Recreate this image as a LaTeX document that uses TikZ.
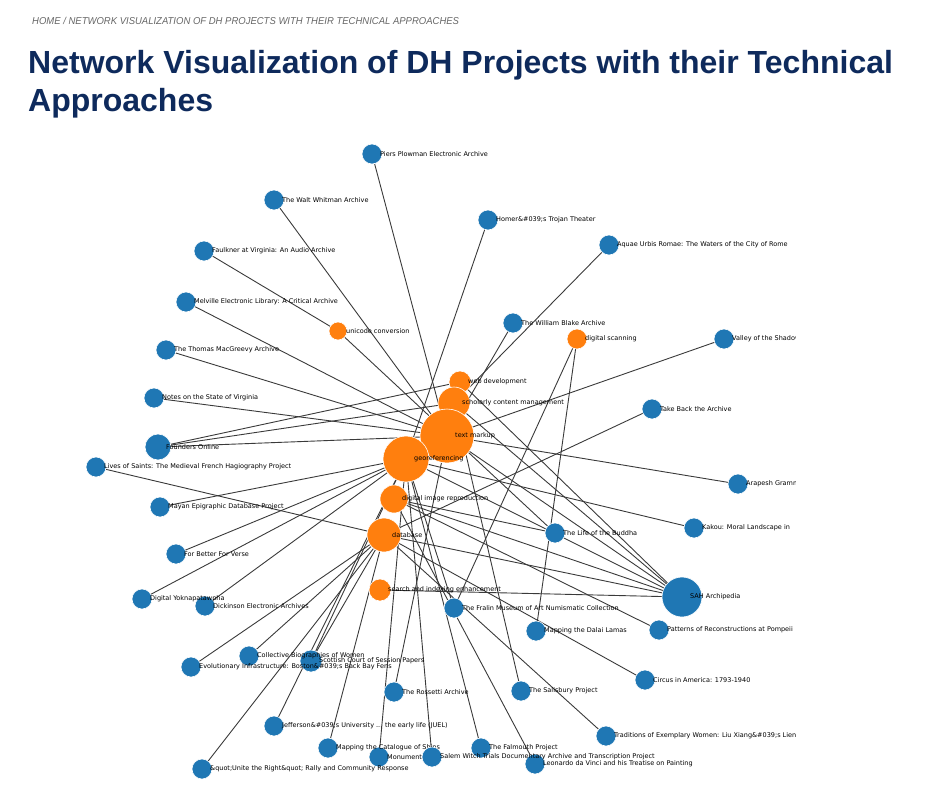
\documentclass[tikz,border=0pt]{standalone}
\usepackage{fontspec}
\setmainfont{DejaVu Sans}
\newfontfamily\titlefont{Liberation Sans}
\newfontfamily\crumbfont[FakeStretch=0.95]{Liberation Sans}
\definecolor{projBlue}{HTML}{1F77B4}
\definecolor{techOrange}{HTML}{FF7F0E}
\definecolor{titleNavy}{HTML}{0E2A5C}
\definecolor{crumbGray}{HTML}{666666}
\definecolor{linkGray}{HTML}{3A3A3A}
\pgfdeclarelayer{links}
\pgfsetlayers{links,main}
\tikzset{
  proj/.style={circle, fill=projBlue, draw=white, line width=0.6pt, inner sep=0pt, minimum size=20pt},
  tech/.style={circle, fill=techOrange, draw=white, line width=0.6pt, inner sep=0pt},
  lbl/.style={anchor=west, inner sep=0pt, font=\fontsize{6.5}{7}\selectfont, text=black},
  link/.style={draw=linkGray, line width=0.9pt}
}
\begin{document}
\begin{tikzpicture}[x=1pt, y=-1pt]
\useasboundingbox (0,0) rectangle (926,798);
% Header
\node[anchor=base west, inner sep=0pt, text=crumbGray, font=\crumbfont\itshape\fontsize{10}{12}\selectfont] (crumb) at (32,24) {HOME / NETWORK VISUALIZATION OF DH PROJECTS WITH THEIR TECHNICAL APPROACHES};
\node[anchor=base west, inner sep=0pt, text=titleNavy, font=\titlefont\bfseries\fontsize{32}{38}\selectfont] (title1) at (28,73) {Network Visualization of DH Projects with their Technical};
\node[anchor=base west, inner sep=0pt, text=titleNavy, font=\titlefont\bfseries\fontsize{32}{38}\selectfont] (title2) at (28,111) {Approaches};
% Technical approaches
\node[tech, minimum size=18pt] (uni) at (338,331) {};
\node[tech, minimum size=20pt] (scan) at (577,339) {};
\node[tech, minimum size=22pt] (web) at (460,382) {};
\node[tech, minimum size=32pt] (scm) at (454,403) {};
\node[tech, minimum size=54pt] (tm) at (447,436) {};
\node[tech, minimum size=46pt] (geo) at (406,459) {};
\node[tech, minimum size=28pt] (dir) at (394,499) {};
\node[tech, minimum size=34pt] (db) at (384,535) {};
\node[tech, minimum size=22pt] (sie) at (380,590) {};
% Projects
\node[proj] (piers) at (372,154) {};
\node[proj] (whit) at (274,200) {};
\node[proj] (homer) at (488,220) {};
\node[proj] (aquae) at (609,245) {};
\node[proj] (faulk) at (204,251) {};
\node[proj] (melv) at (186,302) {};
\node[proj] (blake) at (513,323) {};
\node[proj] (valley) at (724,339) {};
\node[proj] (macg) at (166,350) {};
\node[proj] (notes) at (154,398) {};
\node[proj] (takeb) at (652,409) {};
\node[proj, minimum size=26pt] (found) at (158,447) {};
\node[proj] (lives) at (96,467) {};
\node[proj] (arap) at (738,484) {};
\node[proj] (mayan) at (160,507) {};
\node[proj] (kakou) at (694,528) {};
\node[proj] (buddha) at (555,533) {};
\node[proj] (fbfv) at (176,554) {};
\node[proj] (yok) at (142,599) {};
\node[proj] (dick) at (205,606) {};
\node[proj, minimum size=40pt] (sah) at (682,597) {};
\node[proj] (fralin) at (454,608) {};
\node[proj] (dalai) at (536,631) {};
\node[proj] (pomp) at (659,630) {};
\node[proj] (collb) at (249,656) {};
\node[proj, minimum size=22pt] (scot) at (311,661) {};
\node[proj] (evol) at (191,667) {};
\node[proj] (circus) at (645,680) {};
\node[proj] (ross) at (394,692) {};
\node[proj] (salis) at (521,691) {};
\node[proj] (jeff) at (274,726) {};
\node[proj] (trad) at (606,736) {};
\node[proj] (ships) at (328,748) {};
\node[proj] (falm) at (481,748) {};
\node[proj] (monu) at (379,757) {};
\node[proj] (unite) at (202,769) {};
% Links
\begin{pgfonlayer}{links}
  \foreach \a/\b in {piers/tm, whit/tm, homer/geo, aquae/scm, faulk/uni, melv/tm, blake/tm,
    valley/tm, macg/tm, notes/tm, takeb/db, found/web, found/scm, found/tm, lives/db, arap/tm,
    mayan/geo, kakou/geo, buddha/dir, buddha/uni, fbfv/geo, yok/geo, dick/geo,
    sah/web, sah/scm, sah/tm, sah/geo, sah/dir, sah/db, sah/sie,
    fralin/geo, fralin/scan, dalai/scan, pomp/dir, collb/db, scot/db, scot/geo, evol/db,
    circus/db, ross/tm, salis/scm, jeff/geo, trad/db, ships/db, falm/geo, monu/geo,
    unite/db}
    \draw[link] (\a.center) -- (\b.center);
\end{pgfonlayer}
% Labels
\begin{scope}
  \clip (0,0) rectangle (795,798);
  \node[lbl] (uni-t) at ([xshift=8pt]uni.center) {unicode conversion};
  \node[lbl] (scan-t) at ([xshift=8pt]scan.center) {digital scanning};
  \node[lbl] (web-t) at ([xshift=8pt]web.center) {web development};
  \node[lbl] (scm-t) at ([xshift=8pt]scm.center) {scholarly content management};
  \node[lbl] (tm-t) at ([xshift=8pt]tm.center) {text markup};
  \node[lbl] (geo-t) at ([xshift=8pt]geo.center) {georeferencing};
  \node[lbl] (dir-t) at ([xshift=8pt]dir.center) {digital image reproduction};
  \node[lbl] (db-t) at ([xshift=8pt]db.center) {database};
  \node[lbl] (sie-t) at ([xshift=8pt]sie.center) {search and indexing enhancement};
  \node[lbl] (piers-t) at ([xshift=8pt]piers.center) {Piers Plowman Electronic Archive};
  \node[lbl] (whit-t) at ([xshift=8pt]whit.center) {The Walt Whitman Archive};
  \node[lbl] (homer-t) at ([xshift=8pt]homer.center) {Homer\&\#039;s Trojan Theater};
  \node[lbl] (aquae-t) at ([xshift=8pt]aquae.center) {Aquae Urbis Romae: The Waters of the City of Rome};
  \node[lbl] (faulk-t) at ([xshift=8pt]faulk.center) {Faulkner at Virginia: An Audio Archive};
  \node[lbl] (melv-t) at ([xshift=8pt]melv.center) {Melville Electronic Library: A Critical Archive};
  \node[lbl] (blake-t) at ([xshift=8pt]blake.center) {The William Blake Archive};
  \node[lbl] (valley-t) at ([xshift=8pt]valley.center) {Valley of the Shadow};
  \node[lbl] (macg-t) at ([xshift=8pt]macg.center) {The Thomas MacGreevy Archive};
  \node[lbl] (notes-t) at ([xshift=8pt]notes.center) {Notes on the State of Virginia};
  \node[lbl] (takeb-t) at ([xshift=8pt]takeb.center) {Take Back the Archive};
  \node[lbl] (found-t) at ([xshift=8pt]found.center) {Founders Online};
  \node[lbl] (lives-t) at ([xshift=8pt]lives.center) {Lives of Saints: The Medieval French Hagiography Project};
  \node[lbl] (arap-t) at ([xshift=8pt]arap.center) {Arapesh Grammar};
  \node[lbl] (mayan-t) at ([xshift=8pt]mayan.center) {Mayan Epigraphic Database Project};
  \node[lbl] (kakou-t) at ([xshift=8pt]kakou.center) {Kakou: Moral Landscape in};
  \node[lbl] (buddha-t) at ([xshift=8pt]buddha.center) {The Life of the Buddha};
  \node[lbl] (fbfv-t) at ([xshift=8pt]fbfv.center) {For Better For Verse};
  \node[lbl] (yok-t) at ([xshift=8pt]yok.center) {Digital Yoknapatawpha};
  \node[lbl] (dick-t) at ([xshift=8pt]dick.center) {Dickinson Electronic Archives};
  \node[lbl] (sah-t) at ([xshift=8pt]sah.center) {SAH Archipedia};
  \node[lbl] (fralin-t) at ([xshift=8pt]fralin.center) {The Fralin Museum of Art Numismatic Collection};
  \node[lbl] (dalai-t) at ([xshift=8pt]dalai.center) {Mapping the Dalai Lamas};
  \node[lbl] (pomp-t) at ([xshift=8pt]pomp.center) {Patterns of Reconstructions at Pompeii};
  \node[lbl] (collb-t) at ([xshift=8pt]collb.center) {Collective Biographies of Women};
  \node[lbl] (scot-t) at ([xshift=8pt]scot.center) {Scottish Court of Session Papers};
  \node[lbl] (evol-t) at ([xshift=8pt]evol.center) {Evolutionary Infrastructure: Boston\&\#039;s Back Bay Fens};
  \node[lbl] (circus-t) at ([xshift=8pt]circus.center) {Circus in America: 1793-1940};
  \node[lbl] (ross-t) at ([xshift=8pt]ross.center) {The Rossetti Archive};
  \node[lbl] (salis-t) at ([xshift=8pt]salis.center) {The Salisbury Project};
  \node[lbl] (jeff-t) at ([xshift=8pt]jeff.center) {Jefferson\&\#039;s University ... the early life (JUEL)};
  \node[lbl] (trad-t) at ([xshift=8pt]trad.center) {Traditions of Exemplary Women: Liu Xiang\&\#039;s Lien};
  \node[lbl] (ships-t) at ([xshift=8pt]ships.center) {Mapping the Catalogue of Ships};
  \node[lbl] (falm-t) at ([xshift=8pt]falm.center) {The Falmouth Project};
  \node[lbl] (monu-t) at ([xshift=8pt]monu.center) {Monuments};
  \node[lbl] (unite-t) at ([xshift=8pt]unite.center) {\&quot;Unite the Right\&quot; Rally and Community Response};
\end{scope}
% Nodes drawn over neighbouring labels
\node[proj] (salem) at (432,757) {};
\node[proj] (leo) at (535,764) {};
\begin{pgfonlayer}{links}
  \draw[link] (salem.center) -- (geo.center);
  \draw[link] (leo.center) -- (dir.center);
\end{pgfonlayer}
\node[lbl] (salem-t) at ([xshift=8pt]salem.center) {Salem Witch Trials Documentary Archive and Transcription Project};
\node[lbl] (leo-t) at ([xshift=8pt]leo.center) {Leonardo da Vinci and his Treatise on Painting};
\end{tikzpicture}
\end{document}
